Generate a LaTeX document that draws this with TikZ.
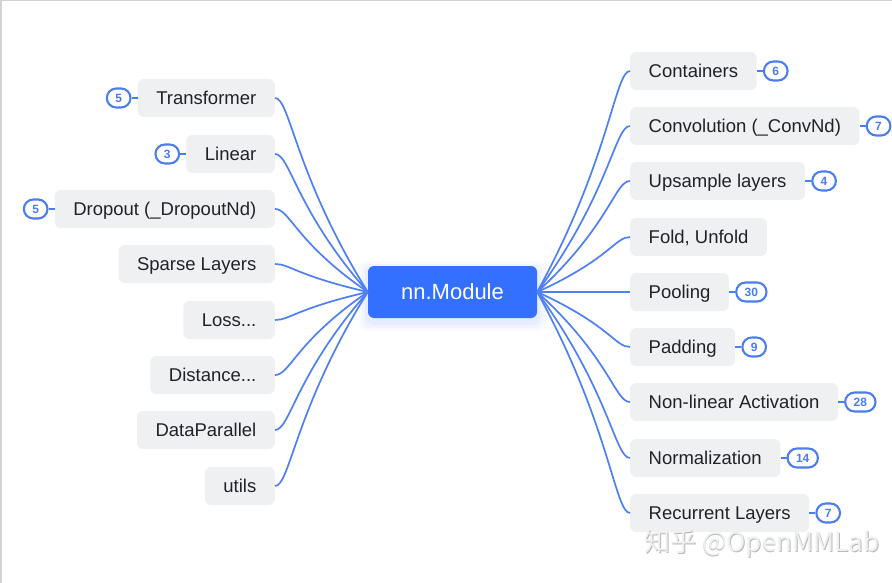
\documentclass[tikz,border=0pt]{standalone}
\usepackage{fontspec}
\setmainfont{Liberation Sans}
\newfontfamily\cjk{Noto Sans CJK SC}
\usetikzlibrary{calc}
\definecolor{hubc}{HTML}{3370FF}
\definecolor{lnc}{HTML}{4F80F2}
\definecolor{blc}{HTML}{4A7DF0}
\definecolor{boxgray}{HTML}{EFF0F2}
\definecolor{txt}{HTML}{1F2329}
\tikzset{
  leaf/.style={fill=boxgray, rounded corners=6pt, minimum height=38pt, inner xsep=18.5pt, inner ysep=0pt,
    text height=15pt, text depth=1.8pt,
    font=\fontsize{18.5}{22}\selectfont, text=txt},
  badge/.style={draw=blc, line width=2.1pt, fill=white, rounded corners=9.5pt, minimum height=19pt,
    minimum width=23pt, inner xsep=8.5pt, inner ysep=0pt, text height=9pt, text depth=0.4pt,
    font=\bfseries\fontsize{12}{13}\selectfont, text=blc},
  link/.style={draw=lnc, line width=1.7pt},
  tick/.style={draw=blc, line width=1.8pt},
  hubbox/.style={fill=hubc, rounded corners=6pt, minimum width=169pt, minimum height=52pt,
    text height=17pt, text depth=1.25pt,
    font=\fontsize{22}{26}\selectfont, text=white}
}
\begin{document}
\begin{tikzpicture}[x=1pt,y=-1pt]
\useasboundingbox (0,0) rectangle (892,583);
\fill[white] (0,0) rectangle (892,583);
\draw[gray!35, line width=1.5pt] (0.75,583) -- (0.75,0.75) -- (892,0.75);

% hub shadow
\foreach \s/\o in {9/0.03,6/0.04,3/0.05}{
  \fill[hubc, opacity=\o, rounded corners=8pt] (368-\s,266-\s+4) rectangle (537+\s,318+\s+4);
}
\node[hubbox] (hub) at (452.5,292) {nn.Module};

% left leaves
\node[leaf, anchor=east] (l1) at (275,98)  {Transformer};
\node[leaf, anchor=east] (l2) at (275,154) {Linear};
\node[leaf, anchor=east] (l3) at (275,209) {Dropout (\_DropoutNd)};
\node[leaf, anchor=east] (l4) at (275,264) {Sparse Layers};
\node[leaf, anchor=east] (l5) at (275,320) {Loss...};
\node[leaf, anchor=east] (l6) at (275,375) {Distance...};
\node[leaf, anchor=east] (l7) at (275,430) {DataParallel};
\node[leaf, anchor=east] (l8) at (275,486) {utils};

% right leaves
\node[leaf, anchor=west] (r1) at (630,71)  {Containers};
\node[leaf, anchor=west] (r2) at (630,126) {Convolution (\_ConvNd)};
\node[leaf, anchor=west] (r3) at (630,181) {Upsample layers};
\node[leaf, anchor=west] (r4) at (630,237) {Fold, Unfold};
\node[leaf, anchor=west] (r5) at (630,292) {Pooling};
\node[leaf, anchor=west] (r6) at (630,347) {Padding};
\node[leaf, anchor=west] (r7) at (630,402) {Non-linear Activation};
\node[leaf, anchor=west] (r8) at (630,458) {Normalization};
\node[leaf, anchor=west] (r9) at (630,513) {Recurrent Layers};

% connectors
\foreach \i in {1,...,8}{
  \draw[link] (l\i.east) .. controls ($(l\i.east)+(15,0)$) and ($(l\i.east)!0.4!(hub.west)+(-17,0)$) .. (hub.west);
}
\foreach \i in {1,...,9}{
  \draw[link] (r\i.west) .. controls ($(r\i.west)+(-15,0)$) and ($(r\i.west)!0.4!(hub.east)+(17,0)$) .. (hub.east);
}

% left badges
\node[badge, anchor=east] (bl1) at ($(l1.west)+(-6,0)$) {5};
\node[badge, anchor=east] (bl2) at ($(l2.west)+(-6,0)$) {3};
\node[badge, anchor=east] (bl3) at ($(l3.west)+(-6,0)$) {5};
\draw[tick] (bl1.east) -- (l1.west);
\draw[tick] (bl2.east) -- (l2.west);
\draw[tick] (bl3.east) -- (l3.west);

% right badges
\node[badge, anchor=west] (br1) at ($(r1.east)+(6,0)$) {6};
\node[badge, anchor=west] (br2) at ($(r2.east)+(6,0)$) {7};
\node[badge, anchor=west] (br3) at ($(r3.east)+(6,0)$) {4};
\node[badge, anchor=west] (br5) at ($(r5.east)+(6,0)$) {30};
\node[badge, anchor=west] (br6) at ($(r6.east)+(6,0)$) {9};
\node[badge, anchor=west] (br7) at ($(r7.east)+(6,0)$) {28};
\node[badge, anchor=west] (br8) at ($(r8.east)+(6,0)$) {14};
\node[badge, anchor=west] (br9) at ($(r9.east)+(6,0)$) {7};
\foreach \i in {1,2,3,5,6,7,8,9}{
  \draw[tick] (r\i.east) -- (br\i.west);
}

% watermark
\node[anchor=west, font=\cjk\fontsize{26}{30}\selectfont, text=gray!55, inner sep=0pt] at (644.8,544.8) {知乎 @OpenMMLab};
\node[anchor=west, font=\cjk\fontsize{26}{30}\selectfont, text=gray!12, inner sep=0pt] (wm) at (644,544) {知乎 @OpenMMLab};
\end{tikzpicture}
\end{document}
